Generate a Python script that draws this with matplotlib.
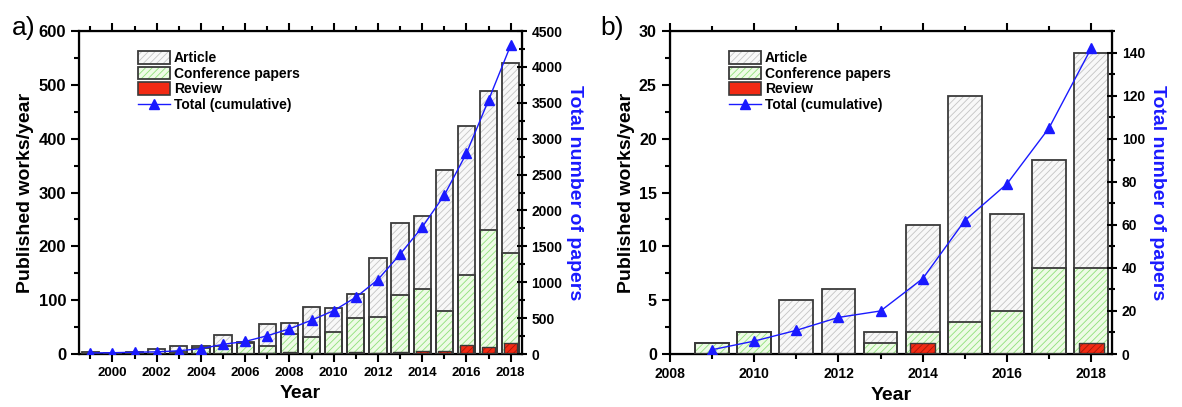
import matplotlib
matplotlib.use("Agg")
import matplotlib.pyplot as plt
from matplotlib.patches import Patch
from matplotlib.lines import Line2D
from matplotlib.legend_handler import HandlerTuple
from matplotlib.ticker import MultipleLocator

plt.rcParams['font.family'] = ['Liberation Sans', 'DejaVu Sans']
plt.rcParams['hatch.linewidth'] = 0.6

# ---- data, panel a ----
years_a = list(range(1999, 2019))
article_a = [4, 2, 4, 9, 15, 15, 36, 23, 56, 57, 88, 86, 112, 178, 243, 256, 341, 424, 489, 541]
conf_a = [0, 0, 0, 0, 3, 12, 14, 20, 14, 37, 32, 40, 67, 68, 109, 120, 80, 146, 231, 188]
review_a = [0, 0, 0, 0, 0, 0, 0, 0, 2, 3, 1, 1, 3, 1, 3, 5, 6, 16, 13, 20]
cum_a = [15, 18, 25, 30, 45, 75, 135, 175, 255, 350, 472, 604, 790, 1037, 1389, 1768, 2213, 2796, 3537, 4301]

# ---- data, panel b ----
years_b = list(range(2009, 2019))
article_b = [1, 2, 5, 6, 2, 12, 24, 13, 18, 28]
conf_b = [1, 2, 0, 0, 1, 2, 3, 4, 8, 8]
review_b = [0, 0, 0, 0, 0, 1, 0, 0, 0, 1]
cum_b = [2, 6, 11, 17, 20, 35, 62, 79, 105, 142]

EDGE = '#3a3a3a'
ART = ('#f8f8f8', '#c4c4c4')
CONF = ('#eefbe6', '#8fe07a')
REV = ('#f22a14', '#a01808')
BLUE = '#1a1aff'


def hatched_bars(ax, x, h, width, colors, lw=1.3):
    face, hcol = colors
    ax.bar(x, h, width, color=face, edgecolor=hcol, linewidth=0, hatch='/////', zorder=2)
    ax.bar(x, h, width, fill=False, edgecolor=EDGE, linewidth=lw, zorder=3)


def legend_patch(colors):
    face, hcol = colors
    return (Patch(facecolor=face, edgecolor=hcol, hatch='/////', linewidth=0),
            Patch(fill=False, edgecolor=EDGE, linewidth=1.3))


def panel(ax, years, art, conf, rev, cum, xlim, ylim, yr, ymaj, ymin, yrmaj, yrmin,
          label, lab_x, width, xsize, ysize):
    hatched_bars(ax, years, art, width, ART)
    hatched_bars(ax, years, conf, width, CONF)
    yrv = [y for y, v in zip(years, rev) if v > 0]
    rv = [v for v in rev if v > 0]
    hatched_bars(ax, yrv, rv, 0.6, REV, lw=1.0)

    ax.set_xlim(*xlim)
    ax.set_ylim(*ylim)
    ax.xaxis.set_major_locator(MultipleLocator(2))
    ax.xaxis.set_minor_locator(MultipleLocator(1))
    ax.yaxis.set_major_locator(MultipleLocator(ymaj))
    ax.yaxis.set_minor_locator(MultipleLocator(ymin))
    ax.tick_params(which='both', top=True, width=1.5)
    ax.tick_params(axis='x', labelsize=xsize)
    ax.tick_params(axis='y', labelsize=ysize)
    ax.tick_params(axis='x', which='major', length=6, direction='out')
    ax.tick_params(axis='x', which='minor', length=3.5, direction='out')
    ax.tick_params(axis='y', which='major', length=6)
    ax.tick_params(axis='y', which='minor', length=3.5)
    for lab in ax.get_xticklabels() + ax.get_yticklabels():
        lab.set_fontweight('bold')
    for s in ax.spines.values():
        s.set_linewidth(1.6)
    ax.set_xlabel('Year', fontsize=14, fontweight='bold', labelpad=4)
    ax.set_ylabel('Published works/year', fontsize=14, fontweight='bold', labelpad=3)

    ax2 = ax.twinx()
    ax2.plot(years, cum, color=BLUE, lw=1.0, marker='^', ms=7, zorder=5)
    ax2.set_ylim(*yr)
    ax2.yaxis.set_major_locator(MultipleLocator(yrmaj))
    ax2.yaxis.set_minor_locator(MultipleLocator(yrmin))
    ax2.tick_params(axis='y', which='major', length=7, width=1.5, direction='inout', labelsize=10)
    ax2.tick_params(axis='y', which='minor', length=4, width=1.5, direction='inout')
    for lab in ax2.get_yticklabels():
        lab.set_fontweight('bold')
    ax2.set_ylabel('Total number of papers', fontsize=14, fontweight='bold', color=BLUE,
                   rotation=-90, labelpad=15)

    handles = [
        legend_patch(ART),
        legend_patch(CONF),
        Patch(facecolor=REV[0], edgecolor=EDGE, linewidth=1.2),
        Line2D([], [], color=BLUE, lw=1.0, marker='^', ms=7),
    ]
    names = ['Article', 'Conference papers', 'Review', 'Total (cumulative)']
    leg = ax2.legend(handles, names, loc='upper left', bbox_to_anchor=(0.12, 0.955),
                     frameon=False, fontsize=10, handlelength=2.3, handleheight=1.0,
                     handletextpad=0.3, labelspacing=0.12, borderaxespad=0,
                     handler_map={tuple: HandlerTuple(ndivide=1, pad=0)})
    for t in leg.get_texts():
        t.set_fontweight('semibold')
    ax.figure.text(lab_x, 0.93, label, fontsize=19, ha='left', va='center')


fig = plt.figure(figsize=(11.82, 4.07), dpi=100)
ax_a = fig.add_axes([0.0671, 0.1302, 0.3743, 0.7936])
ax_b = fig.add_axes([0.5668, 0.1302, 0.3742, 0.7936])

panel(ax_a, years_a, article_a, conf_a, review_a, cum_a, (1998.5, 2018.5), (0, 600), (0, 4500),
      100, 50, 500, 250, 'a)', 0.010, 0.78, 9.5, 12)
panel(ax_b, years_b, article_b, conf_b, review_b, cum_b, (2008, 2018.5), (0, 30), (0, 150),
      5, 2.5, 20, 10, 'b)', 0.508, 0.8, 10, 11.5)

fig.savefig('out.png', dpi=100)
